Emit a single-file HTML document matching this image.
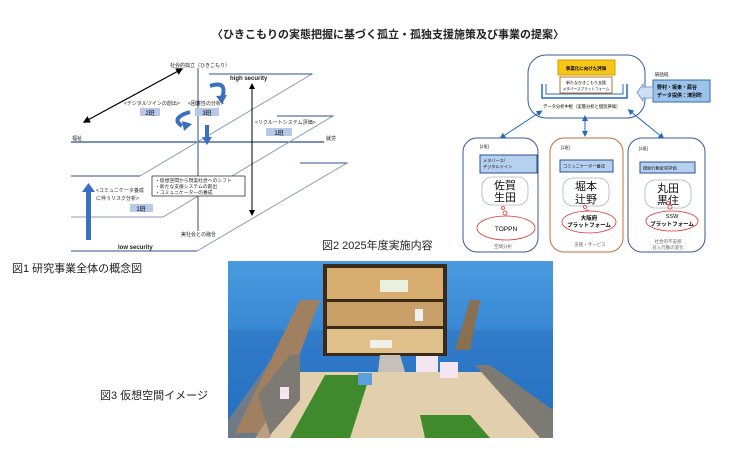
<!DOCTYPE html>
<html><head><meta charset="utf-8"><style>
body{margin:0;background:#fff;width:750px;height:468px;overflow:hidden}
svg text{font-family:"Liberation Sans","Noto Sans CJK JP",sans-serif}
</style></head><body>
<svg width="750" height="468" viewBox="0 0 750 468" xmlns="http://www.w3.org/2000/svg">
<defs>
<marker id="ab" markerWidth="6" markerHeight="6" refX="3" refY="3" orient="auto-start-reverse"><path d="M0,0L6,3L0,6z" fill="#2468c0"/></marker>
<marker id="ak" markerWidth="6" markerHeight="6" refX="3" refY="3" orient="auto-start-reverse"><path d="M0,0L6,3L0,6z" fill="#000"/></marker>
<linearGradient id="sky" x1="0" y1="0" x2="0" y2="1"><stop offset="0" stop-color="#4a9ae0"/><stop offset="1" stop-color="#1f6cc0"/></linearGradient>
</defs>
<text x="388" y="38" font-size="11" font-weight="bold" text-anchor="middle" fill="#222">〈ひきこもりの実態把握に基づく孤立・孤独支援施策及び事業の提案〉</text>

<!-- Fig1 -->
<g fill="none" stroke-width="1">
<line x1="198" y1="68" x2="198" y2="231" stroke="#2c4f8f"/>
<line x1="71" y1="142" x2="324" y2="142" stroke="#2c4f8f" stroke-width="1.3"/>
<polyline points="209,74 312,74 140,176 71,176" stroke="#8a9bb8"/>
<polyline points="277,116 333,116 163,217 71,217" stroke="#8a9bb8"/>
<polyline points="300,163 347,163 197,251 71,251" stroke="#8a9bb8"/>
<line x1="209" y1="74" x2="312" y2="74" stroke="#2c4f8f"/>
<line x1="277" y1="116" x2="333" y2="116" stroke="#2c4f8f"/>
<line x1="300" y1="163" x2="347" y2="163" stroke="#2c4f8f"/>
<line x1="71" y1="176" x2="140" y2="176" stroke="#2c4f8f"/>
<line x1="71" y1="251" x2="197" y2="251" stroke="#2c4f8f"/>
<line x1="86" y1="121" x2="180" y2="70" stroke="#000" stroke-width="1.2" marker-start="url(#ak)" marker-end="url(#ak)"/>
<line x1="252" y1="86" x2="252" y2="213" stroke="#000" marker-start="url(#ak)" marker-end="url(#ak)"/>
</g>
<rect x="86" y="192" width="5" height="48" fill="#3a6fc4"/><path d="M82,192L88.5,183L95,192z" fill="#3a6fc4"/>
<rect x="205" y="125" width="4" height="12" fill="#3a6fc4"/><path d="M202,137L207,145L212,137z" fill="#3a6fc4"/>
<path d="M210,86 Q228,80 222,98" fill="none" stroke="#3a6fc4" stroke-width="4"/><path d="M216,96L222,104L227,95z" fill="#3a6fc4"/>
<path d="M190,112 Q170,118 182,126" fill="none" stroke="#3a6fc4" stroke-width="4"/><path d="M182,121L192,124L184,131z" fill="#3a6fc4"/>
<g font-size="5" fill="#222">
<text x="200" y="67" text-anchor="middle">社会的孤立（ひきこもり）</text>
<text x="230" y="80" font-size="6" font-weight="bold">high security</text>
<text x="118" y="249" font-size="6" font-weight="bold">low security</text>
<text x="124" y="105">&lt;デジタルツインの創出&gt;</text>
<text x="188" y="105">&lt;困難性の分析&gt;</text>
<text x="255" y="124">&lt;リクルートシステム評価&gt;</text>
<text x="72" y="140">福祉</text><text x="326" y="140">就労</text>
<text x="96" y="192">&lt;コミュニケータ養成</text>
<text x="96" y="200">に伴うリスク分析&gt;</text>
<text x="181" y="236">実社会との融合</text>
</g>
<rect x="140" y="108" width="20" height="8" fill="#b6c9ea"/><text x="150" y="115" font-size="6" text-anchor="middle">2班</text>
<rect x="195" y="108" width="24" height="8" fill="#b6c9ea"/><text x="207" y="115" font-size="6" text-anchor="middle">3班</text>
<rect x="266" y="128" width="26" height="8" fill="#b6c9ea"/><text x="279" y="135" font-size="6" text-anchor="middle">1班</text>
<rect x="130" y="204" width="23" height="8" fill="#b6c9ea"/><text x="141" y="211" font-size="6" text-anchor="middle">1班</text>
<rect x="152" y="176" width="93" height="20" fill="#fff" stroke="#333" stroke-width="0.8"/>
<g font-size="4.8" fill="#222"><text x="155" y="182">・仮想空間から現実社会へのシフト</text><text x="155" y="188">・新たな支援システムの創出</text><text x="155" y="194">・コミュニケーターの養成</text></g>
<text x="12" y="272" font-size="11" fill="#222">図1  研究事業全体の概念図</text>
<text x="322" y="249" font-size="11" fill="#222">図2  2025年度実施内容</text>
<text x="100" y="399" font-size="11" fill="#222">図3  仮想空間イメージ</text>

<!-- Fig2 -->
<rect x="528" y="55" width="117" height="63" rx="18" fill="#fff" stroke="#3a5a9a"/>
<rect x="558" y="60" width="57" height="15" fill="#f5c518" stroke="#c9a000"/>
<text x="586" y="70" font-size="4.5" font-weight="bold" text-anchor="middle">事業化に向けた評価</text>
<rect x="560" y="77" width="52" height="16" fill="#fff" stroke="#c0703a"/>
<text x="586" y="84" font-size="4" text-anchor="middle">新たなひきこもり支援</text>
<text x="586" y="90" font-size="3.6" text-anchor="middle">メタバースプラットフォーム</text>
<polyline points="542,84 542,98 627,98 627,84" fill="none" stroke="#2468c0" stroke-width="1.5"/>
<polyline points="546,84 546,94 623,94 623,84" fill="none" stroke="#2468c0" stroke-width="1"/>
<text x="543" y="108" font-size="4.3">データ分析中枢（実態分析と個別評価）</text>
<text x="655" y="76" font-size="4.5">統括班</text>
<rect x="653" y="80" width="57" height="22" fill="#9cc3ea" stroke="#3a6aa8"/>
<text x="657" y="89" font-size="5" font-weight="bold">野村・坂東・薦谷</text>
<text x="657" y="97" font-size="5" font-weight="bold">データ提供：津別町</text>
<path d="M653,87 L643,87 L643,84 L637,92.5 L643,101 L643,98 L653,98z" fill="#cfe0f5" stroke="#5a85c0" stroke-width="0.7"/>
<line x1="540" y1="112" x2="502" y2="137" stroke="#2468c0" marker-start="url(#ab)" marker-end="url(#ab)"/>
<line x1="585" y1="118" x2="585" y2="134" stroke="#2468c0" marker-start="url(#ab)" marker-end="url(#ab)"/>
<line x1="630" y1="111" x2="662" y2="137" stroke="#2468c0" marker-start="url(#ab)" marker-end="url(#ab)"/>
<rect x="463" y="138" width="75" height="114" rx="14" fill="#fff" stroke="#3a5a9a"/>
<rect x="550" y="138" width="73" height="114" rx="14" fill="#fff" stroke="#c0703a"/>
<rect x="628" y="138" width="77" height="114" rx="14" fill="#fff" stroke="#3a5a9a"/>
<g font-size="4.2" fill="#222"><text x="480" y="148">[2班]</text><text x="561" y="149">[1班]</text><text x="639" y="150">[3班]</text></g>
<rect x="480" y="155" width="57" height="18" fill="#b6d0ef" stroke="#2c4f8f"/>
<rect x="560" y="160" width="53" height="12" fill="#b6d0ef" stroke="#2c4f8f"/>
<rect x="640" y="162" width="55" height="11" fill="#b6d0ef" stroke="#2c4f8f"/>
<g font-size="4.2" fill="#111"><text x="483" y="162">メタバース/</text><text x="483" y="168">デジタルツイン</text><text x="563" y="167.5">コミュニケーター養成</text><text x="643" y="169.5">援助行動変容評価</text></g>
<g fill="#fff" stroke="#aab4d0" stroke-width="0.8">
<rect x="482" y="177" width="46" height="28" rx="10"/><rect x="563" y="178" width="46" height="28" rx="10"/><rect x="645" y="180" width="46" height="28" rx="10"/></g>
<g font-size="11" text-anchor="middle" fill="#111">
<text x="505" y="189">佐賀</text><text x="505" y="201">生田</text>
<text x="586" y="190">堀本</text><text x="586" y="203">辻野</text>
<text x="668" y="192">丸田</text><text x="668" y="204">黒住</text></g>
<g fill="#fff" stroke="#e03030" stroke-width="0.8">
<circle cx="503" cy="208" r="1.5"/><circle cx="505" cy="213" r="2"/>
<circle cx="585" cy="207" r="1.5"/><circle cx="587" cy="212" r="2"/>
<circle cx="668" cy="203" r="1.5"/><circle cx="670" cy="207" r="2"/>
<ellipse cx="506" cy="228" rx="29" ry="12"/>
<ellipse cx="589" cy="222" rx="27" ry="11"/>
<ellipse cx="672" cy="221" rx="26" ry="10"/></g>
<text x="506" y="231" font-size="6.5" text-anchor="middle">TOPPN</text>
<text x="589" y="220" font-size="5.5" font-weight="bold" text-anchor="middle">大阪府</text>
<text x="589" y="227" font-size="5.5" font-weight="bold" text-anchor="middle">プラットフォーム</text>
<text x="672" y="218" font-size="5.5" text-anchor="middle">SSW</text>
<text x="672" y="226" font-size="5.5" font-weight="bold" text-anchor="middle">プラットフォーム</text>
<g font-size="4.5" fill="#666" text-anchor="middle"><text x="503" y="248">空間分析</text><text x="590" y="246">支援・サービス</text><text x="668" y="243">社会的不安感</text><text x="668" y="249">対人行動の変化</text></g>

<!-- Fig3 image -->
<rect x="228" y="261" width="325" height="177" fill="url(#sky)"/>
<path d="M228,330 L553,330 L553,438 L228,438z" fill="#2a6fc0" opacity="0.5"/>
<path d="M235,433 L300,300 L320,300 L270,433z" fill="#a08060"/>
<path d="M455,350 L470,300 L480,300 L470,350z" fill="#8a7050"/>
<path d="M255,438 L300,372 L485,372 L553,420 L553,438z" fill="#e2cfae"/>
<path d="M298,322 L270,438 L228,438 L228,420z" fill="#a08060" opacity="0.6"/>
<rect x="327" y="267" width="116" height="32" fill="#d8ad70"/>
<rect x="323" y="264" width="124" height="4" fill="#3a2a1a"/>
<rect x="323" y="264" width="4" height="91" fill="#3a2a1a"/><rect x="443" y="264" width="4" height="91" fill="#3a2a1a"/>
<rect x="327" y="299" width="116" height="3" fill="#3a2a1a"/>
<rect x="327" y="302" width="116" height="24" fill="#c9a068"/>
<rect x="327" y="326" width="116" height="3" fill="#3a2a1a"/>
<rect x="327" y="329" width="116" height="24" fill="#e0c08a"/>
<rect x="323" y="353" width="124" height="3" fill="#3a2a1a"/>
<rect x="380" y="280" width="28" height="12" fill="#e9f0e0"/>
<rect x="415" y="309" width="8" height="12" fill="#f0f0f0"/>
<rect x="370" y="340" width="22" height="8" fill="#f0f0e8"/>
<path d="M380,355 L400,355 L405,372 L378,372z" fill="#c8c0b8"/>
<path d="M258,395 L290,355 L300,355 L300,400 L270,435z" fill="#7d7a74"/>
<path d="M290,438 L325,375 L370,375 L350,438z" fill="#3f8a2c"/>
<path d="M475,365 L490,365 L553,410 L553,438 L540,438z" fill="#7d7a74"/>
<path d="M420,415 L470,415 L490,438 L425,438z" fill="#3f8a2c"/>
<rect x="416" y="356" width="22" height="16" fill="#f3e6f0"/>
<rect x="440" y="362" width="18" height="16" fill="#f3e6f0"/>
<rect x="358" y="373" width="14" height="12" fill="#5aa0e0"/>
<rect x="280" y="387" width="9" height="12" fill="#f3e6f0"/>
</svg>
</body></html>
